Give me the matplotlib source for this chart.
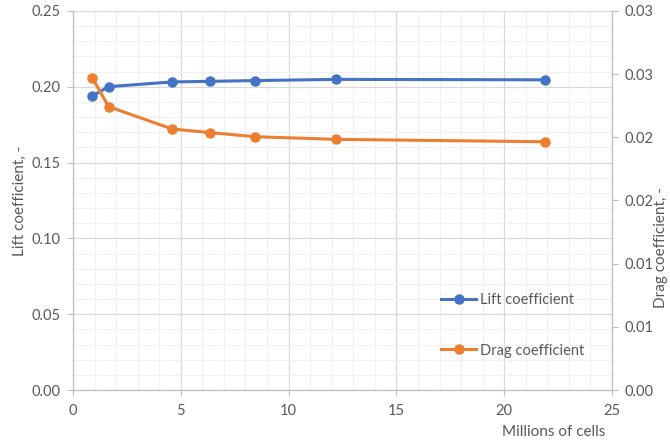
import matplotlib
matplotlib.use("Agg")
import matplotlib.pyplot as plt
from matplotlib.ticker import MultipleLocator, FixedLocator, FixedFormatter

plt.rcParams['font.family'] = ['Lato', 'DejaVu Sans']

# Mesh refinement study
cells_millions = [0.9, 1.65, 4.6, 6.37, 8.46, 12.2, 21.9]
lift_coeff = [0.194, 0.2001, 0.2032, 0.2036, 0.2041, 0.2049, 0.2046]
drag_coeff = [0.0247, 0.02243, 0.02066, 0.02037, 0.02005, 0.01984, 0.01965]

x_ticks = [0, 5, 10, 15, 20, 25]
lift_ticks = [0.00, 0.05, 0.10, 0.15, 0.20, 0.25]
drag_ticks = [0.000, 0.005, 0.010, 0.015, 0.020, 0.025, 0.030]
drag_tick_labels = ["0.00", "0.01", "0.01", "0.02", "0.02", "0.03", "0.03"]

BLUE = "#4472C4"
ORANGE = "#ED7D31"
TEXT = "#595959"
AXIS = "#BFBFBF"

fig = plt.figure(figsize=(6.7, 4.48), dpi=100)
ax = fig.add_axes([73 / 670, 58 / 448, 539 / 670, 379 / 448])
ax2 = ax.twinx()

ax.set_xlim(0, 25)
ax.set_ylim(0, 0.25)
ax2.set_ylim(0, 0.03)

ax.xaxis.set_major_locator(FixedLocator(x_ticks))
ax.xaxis.set_minor_locator(MultipleLocator(1))
ax.yaxis.set_major_locator(FixedLocator(lift_ticks))
ax.yaxis.set_minor_locator(MultipleLocator(0.01))
ax.set_yticklabels([f"{v:.2f}" for v in lift_ticks])

ax2.yaxis.set_major_locator(FixedLocator(drag_ticks))
ax2.yaxis.set_major_formatter(FixedFormatter(drag_tick_labels))

ax.grid(which="major", color="#D9D9D9", linewidth=0.9)
ax.grid(which="minor", color="#F0F0F0", linewidth=0.8)
ax.set_axisbelow(True)

for a in (ax, ax2):
    a.spines["top"].set_visible(False)
    for side in ("left", "right", "bottom"):
        a.spines[side].set_color(AXIS)
        a.spines[side].set_linewidth(0.9)
    a.tick_params(which="major", length=4, width=0.8, color=AXIS,
                  labelcolor=TEXT, labelsize=10.5)
    a.tick_params(which="minor", length=0)
ax.spines["right"].set_visible(False)
ax2.spines["left"].set_visible(False)
ax2.spines["bottom"].set_visible(False)
ax.tick_params(axis="x", pad=6)
ax.tick_params(axis="y", pad=5)
ax2.tick_params(axis="y", pad=5)

l1, = ax.plot(cells_millions, lift_coeff, color=BLUE, linewidth=2.2,
              marker="o", markersize=6.5, label="Lift coefficient")
l2, = ax2.plot(cells_millions, drag_coeff, color=ORANGE, linewidth=2.2,
               marker="o", markersize=6.5, label="Drag coefficient")

ax.set_ylabel("Lift coefficient, -", color=TEXT, fontsize=11, labelpad=3)
fig.text(661 / 670, 200 / 448, "Drag coefficient, -", rotation=90,
         color=TEXT, fontsize=11, ha="center", va="center")
fig.text(605 / 670, 16 / 448, "Millions of cells", color=TEXT,
         fontsize=11, ha="right", va="center")

fig.legend(handles=[l1, l2], loc="upper left",
           bbox_to_anchor=(428 / 670, 1 - 280 / 448), frameon=False,
           fontsize=10.5, labelcolor=TEXT, handlelength=2.4,
           handletextpad=0.25, labelspacing=2.5)

fig.savefig("out.png", dpi=100)
